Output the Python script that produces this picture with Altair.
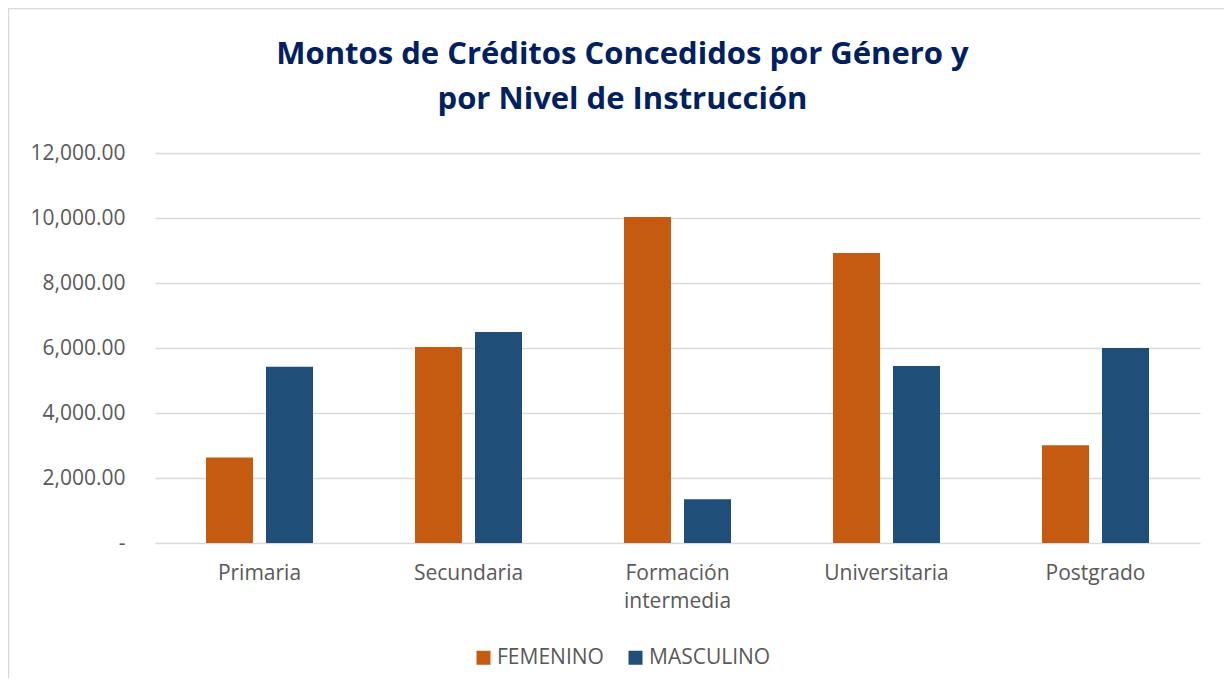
import altair as alt
import pandas as pd

categorias = ["Primaria", "Secundaria", "Formación intermedia", "Universitaria", "Postgrado"]
femenino = [2630, 6030, 10030, 8920, 3010]
masculino = [5420, 6490, 1350, 5450, 6000]
generos = ["FEMENINO", "MASCULINO"]
colores = ["#C55A11", "#1F4E79"]
y_ticks = [0, 2000, 4000, 6000, 8000, 10000, 12000]

rows = []
for c, f, m in zip(categorias, femenino, masculino):
    rows.append({"nivel": c, "genero": "FEMENINO", "monto": f})
    rows.append({"nivel": c, "genero": "MASCULINO", "monto": m})
df = pd.DataFrame(rows)

FONT = "Open Sans"
GRAY = "#595959"

frame = alt.Chart(pd.DataFrame({"a": [0]})).mark_rect(
    fillOpacity=0, stroke="#D9D9D9", strokeWidth=1.5
).encode(
    x=alt.value(-146.5), x2=alt.value(1090),
    y=alt.value(-144.5), y2=alt.value(560),
)

bars = alt.Chart(df).mark_bar().encode(
    x=alt.X("nivel:N", sort=categorias, title=None,
            scale=alt.Scale(paddingInner=0.488, paddingOuter=0.244),
            axis=alt.Axis(labelAngle=0, labelFont=FONT, labelFontSize=21,
                          labelColor=GRAY, labelPadding=19, ticks=False,
                          domain=False, grid=False, labelLineHeight=28,
                          labelExpr="datum.label == 'Formación intermedia' ? ['Formación', 'intermedia'] : datum.label")),
    xOffset=alt.XOffset("genero:N", sort=generos,
                        scale=alt.Scale(paddingInner=0.2167, paddingOuter=0)),
    y=alt.Y("monto:Q", title=None,
            scale=alt.Scale(domain=[0, 12000], nice=False),
            axis=alt.Axis(values=y_ticks, labelFont=FONT, labelFontSize=21,
                          labelColor=GRAY, labelPadding=30, ticks=False,
                          domain=False, grid=True, gridColor="#D9D9D9",
                          gridWidth=1.3,
                          labelExpr="datum.value == 0 ? '-' : format(datum.value, ',.2f')")),
    color=alt.Color("genero:N", sort=generos,
                    scale=alt.Scale(domain=generos, range=colores),
                    legend=alt.Legend(title=None, orient="none", direction="horizontal",
                                      legendX=318, legendY=494,
                                      symbolType="square", symbolSize=196,
                                      symbolStrokeWidth=0, labelFont=FONT,
                                      labelFontSize=21, labelColor=GRAY,
                                      labelOffset=3, columnPadding=21)),
)

chart = alt.layer(frame, bars).properties(
    width=1045, height=390,
    background="white",
    autosize=alt.AutoSizeParams(type="none"),
    padding={"left": 147, "top": 145, "right": 24, "bottom": 135},
    title=alt.TitleParams(
        text=["Montos de Créditos Concedidos por Género y", "por Nivel de Instrucción"],
        font=FONT, fontSize=31, fontWeight="bold", color="#002060",
        anchor="middle", frame="group", dx=-55, offset=-108, lineHeight=45,
    ),
).configure_view(stroke=None)

chart.save("out.html", embed_options={"renderer": "svg", "actions": False})
